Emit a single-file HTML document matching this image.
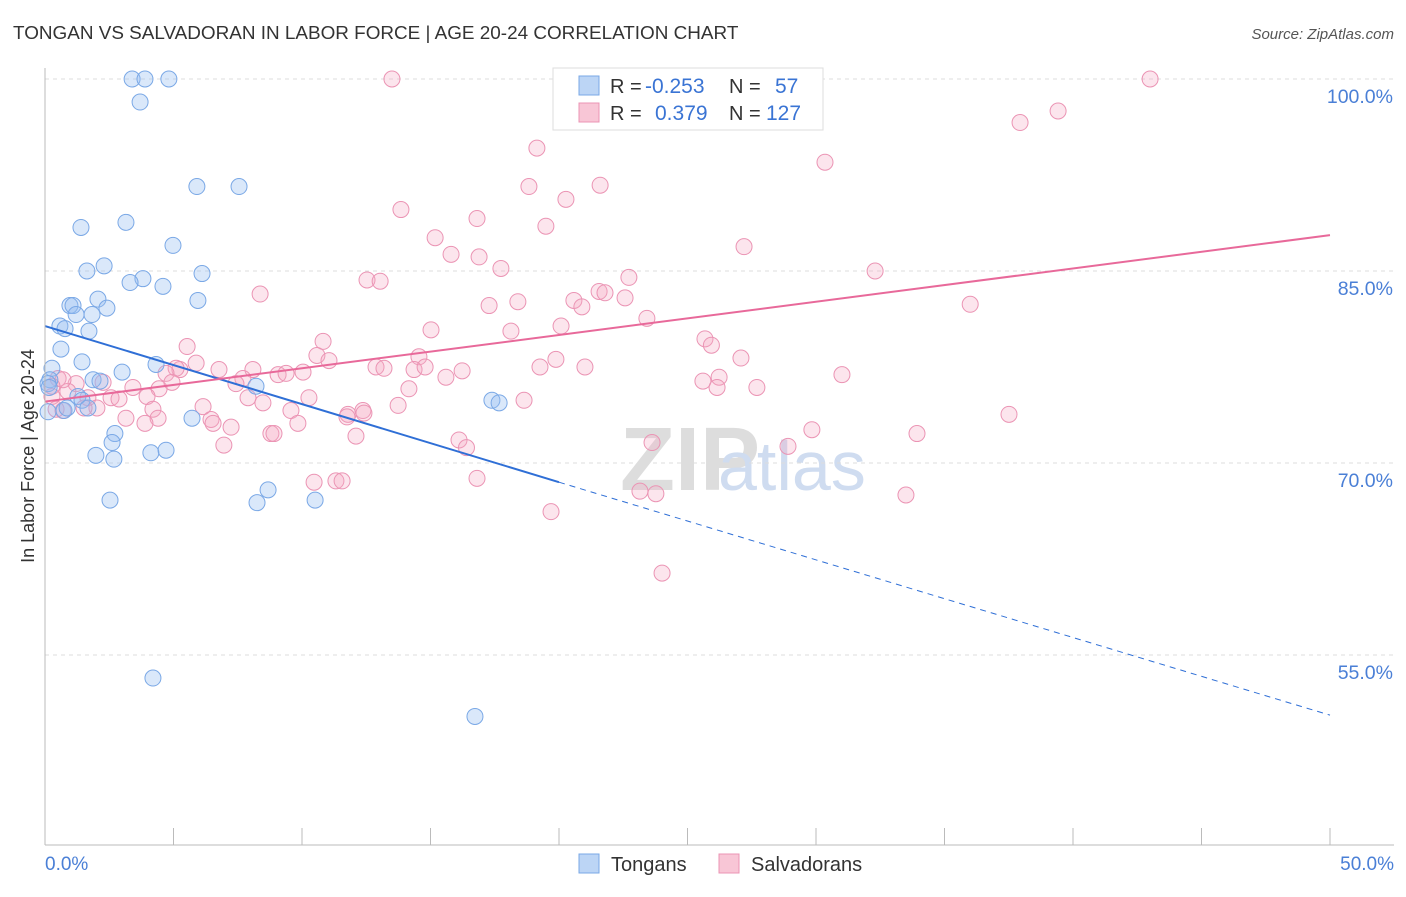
<!DOCTYPE html>
<html><head><meta charset="utf-8"><style>
body{margin:0;background:#fff;font-family:"Liberation Sans",sans-serif}
svg text{font-family:"Liberation Sans",sans-serif}
</style></head><body>
<svg id="c" width="1406" height="892">
<text x="13" y="39" font-size="18.9" fill="#333">TONGAN VS SALVADORAN IN LABOR FORCE | AGE 20-24 CORRELATION CHART</text>
<text x="1394" y="39" font-size="15" fill="#555" font-style="italic" text-anchor="end">Source: ZipAtlas.com</text>
<text x="34" y="456" font-size="18" fill="#333" text-anchor="middle" transform="rotate(-90 34 456)">In Labor Force | Age 20-24</text>
<text x="620" y="490" font-size="90" fill="#ddd" font-family="Liberation Serif" font-weight="bold">ZIP</text>
<text x="718" y="490" font-size="70" fill="#cfdcf0">atlas</text>
<g id="grid"></g><g id="pts"></g><g id="lines"></g>
<line x1="45" y1="68" x2="45" y2="845" stroke="#bbb"/>
<line x1="45" y1="845" x2="1394" y2="845" stroke="#bbb"/>
<g id="ticks"></g>
<text x="45" y="870" font-size="19" fill="#4a7fd6">0.0%</text>
<text x="1394" y="870" font-size="19" fill="#4a7fd6" text-anchor="end">50.0%</text>
<g>
<rect x="553" y="68" width="270" height="62" fill="#fff" stroke="#ddd"/>
<rect x="579" y="76" width="20" height="19" fill="#bcd5f5" stroke="#7aa8e6"/>
<rect x="579" y="103" width="20" height="19" fill="#f8c6d6" stroke="#eb94b4"/>
<text x="610" y="93" font-size="20" fill="#333">R = </text><text x="645" y="93" font-size="21" fill="#3a74d4">-0.253</text>
<text x="729" y="93" font-size="20" fill="#333">N = </text><text x="775" y="93" font-size="21" fill="#3a74d4">57</text>
<text x="610" y="120" font-size="20" fill="#333">R = </text><text x="655" y="120" font-size="21" fill="#3a74d4">0.379</text>
<text x="729" y="120" font-size="20" fill="#333">N = </text><text x="766" y="120" font-size="21" fill="#3a74d4">127</text>
</g>
<rect x="579" y="854" width="20" height="19" fill="#bcd5f5" stroke="#7aa8e6"/>
<text x="611" y="871" font-size="20" fill="#333">Tongans</text>
<rect x="719" y="854" width="20" height="19" fill="#f8c6d6" stroke="#eb94b4"/>
<text x="751" y="871" font-size="20" fill="#333">Salvadorans</text>
</svg>
<script>
const yTicks=[100,85,70,55];
const yTickLabels=["100.0%","85.0%","70.0%","55.0%"];
const xTicks=[0,5,10,15,20,25,30,35,40,45,50];
const blueX=[3.39,3.89,4.82,3.70,5.91,7.55,1.40,3.15,4.98,1.63,2.30,3.81,3.31,6.11,4.59,5.95,2.06,0.97,1.09,2.41,1.21,1.83,0.58,0.78,1.71,0.62,1.44,4.32,3.00,1.87,2.14,0.27,0.19,0.12,0.16,1.28,1.44,1.67,0.74,0.86,0.12,8.21,5.72,2.72,2.61,1.98,2.68,4.12,4.71,17.39,17.67,8.68,8.25,10.51,2.53,4.20,16.73];
const blueY=[100,100,100,98.2,91.6,91.6,88.4,88.8,87.0,85.0,85.4,84.4,84.1,84.8,83.8,82.7,82.8,82.3,82.3,82.1,81.6,81.6,80.7,80.5,80.3,78.9,77.9,77.7,77.1,76.5,76.4,77.4,76.5,76.2,75.9,75.2,74.9,74.3,74.1,74.3,74.0,76.0,73.5,72.3,71.6,70.6,70.3,70.8,71.0,74.9,74.7,67.9,66.9,67.1,67.1,53.2,50.2];
const pinkX=[13.50,43.0,37.94,39.42,19.14,30.35,18.83,21.60,20.27,13.85,16.81,19.49,15.18,27.20,15.80,16.89,17.74,32.30,22.72,12.53,13.04,21.56,21.79,8.37,22.57,20.58,18.40,17.28,20.89,36.0,23.42,20.08,15.02,18.13,10.82,25.68,25.93,5.53,10.58,14.55,19.88,27.08,11.05,5.88,5.25,5.10,6.77,12.88,13.19,14.36,14.79,16.23,19.26,21.01,8.09,9.07,9.38,10.04,4.71,15.60,31.01,7.70,25.60,26.23,26.15,27.70,7.43,2.26,3.42,4.44,4.94,14.16,1.21,0.89,0.51,0.27,7.90,3.97,2.57,1.67,2.88,8.48,10.27,13.74,4.20,2.02,0.70,0.43,6.15,9.57,12.37,18.64,12.41,11.79,11.75,3.15,4.40,6.46,3.89,6.54,7.24,9.84,37.51,29.84,8.79,8.91,12.10,33.93,16.11,23.62,16.40,28.91,6.96,16.81,10.47,11.32,11.56,23.15,23.77,33.50,19.69,24.01,0.70,0.27,1.52];
const pinkY=[100,100,96.6,97.5,94.6,93.5,91.6,91.7,90.6,89.8,89.1,88.5,87.6,86.9,86.3,86.1,85.2,85.0,84.5,84.3,84.2,83.4,83.3,83.2,82.9,82.7,82.6,82.3,82.2,82.4,81.3,80.7,80.4,80.3,79.5,79.7,79.2,79.1,78.4,78.3,78.1,78.2,78.0,77.8,77.3,77.4,77.3,77.5,77.4,77.3,77.5,77.2,77.5,77.5,77.3,76.9,77.0,77.1,77.0,76.7,76.9,76.6,76.4,76.7,75.9,75.9,76.2,76.3,75.9,75.8,76.3,75.8,76.2,75.6,76.6,75.2,75.1,75.2,75.1,75.1,75.0,74.7,75.1,74.5,74.2,74.3,74.1,74.2,74.4,74.1,74.1,74.9,73.9,73.8,73.6,73.5,73.5,73.4,73.1,73.1,72.8,73.1,73.8,72.6,72.3,72.3,72.1,72.3,71.8,71.6,71.2,71.3,71.4,68.8,68.5,68.6,68.6,67.8,67.6,67.5,66.2,61.4,76.5,76.0,74.3];
const blueTrend=[[0,80.7],[20,68.5],[50,50.3]];
const pinkTrend=[[0,74.8],[50,87.8]];
const X=v=>45+v*25.7, Y=v=>79+(100-v)*12.8;
const NS="http://www.w3.org/2000/svg";
function mk(t,a,p){const e=document.createElementNS(NS,t);for(const k in a)e.setAttribute(k,a[k]);document.getElementById(p).appendChild(e);return e;}
yTicks.forEach((v,i)=>{
 const l=mk('line',{x1:45,x2:1394,y1:Y(v),y2:Y(v),stroke:'#ddd','stroke-dasharray':'4,4'},'grid');
 
 
 const t=mk('text',{x:1393,y:Y(v)+24,'font-size':19.5,fill:'#4a7fd6','text-anchor':'end'},'grid');
 t.textContent=yTickLabels[i];
 
 
});
xTicks.forEach(v=>{
 const l=mk('line',{x1:X(v),x2:X(v),y1:828,y2:845,stroke:'#bbb'},'ticks');
 
 
});
pinkX.forEach((x,i)=>{
 const c=mk('circle',{cx:X(x),cy:Y(pinkY[i]),r:8,fill:'rgba(245,170,195,0.3)',stroke:'#eb94b4','stroke-width':1},'pts');
 
 
});
blueX.forEach((x,i)=>{
 const c=mk('circle',{cx:X(x),cy:Y(blueY[i]),r:8,fill:'rgba(150,190,240,0.35)',stroke:'#7aa8e6','stroke-width':1},'pts');
 
 
});
let b1=mk('line',{x1:X(blueTrend[0][0]),y1:Y(blueTrend[0][1]),x2:X(blueTrend[1][0]),y2:Y(blueTrend[1][1]),stroke:'#2f6fd6','stroke-width':2},'lines');


let b2=mk('line',{x1:X(blueTrend[1][0]),y1:Y(blueTrend[1][1]),x2:X(blueTrend[2][0]),y2:Y(blueTrend[2][1]),stroke:'#2f6fd6','stroke-width':1,'stroke-dasharray':'6,5'},'lines');


let p1=mk('line',{x1:X(pinkTrend[0][0]),y1:Y(pinkTrend[0][1]),x2:X(pinkTrend[1][0]),y2:Y(pinkTrend[1][1]),stroke:'#e8699a','stroke-width':2},'lines');


</script>
</body></html>
